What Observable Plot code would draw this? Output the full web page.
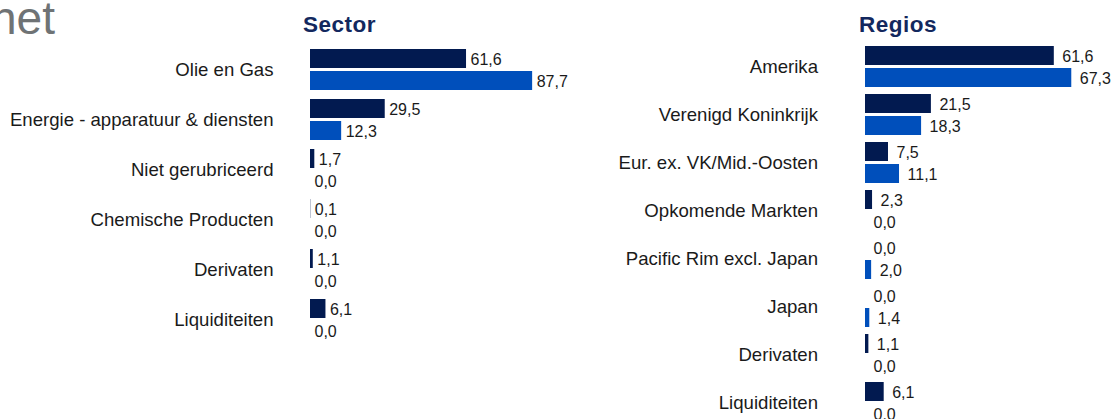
<!DOCTYPE html>
<html>
<head>
<meta charset="utf-8">
<script src="https://cdn.jsdelivr.net/npm/d3@7"></script>
<script src="https://cdn.jsdelivr.net/npm/@observablehq/plot@0.6"></script>
<style>
html, body { margin: 0; padding: 0; background: #fff; overflow: hidden; }
#wrap { position: relative; width: 1111px; height: 419px; overflow: hidden; font-family: "Liberation Sans", Arial, sans-serif; }
.ttl { position: absolute; font-weight: bold; font-size: 22.5px; line-height: 22px; color: #13285e; letter-spacing: 0.5px; white-space: nowrap; }
.head { position: absolute; left: -9px; top: -5px; font-size: 46px; line-height: 46px; color: #6f7375; white-space: nowrap; }
.panel { position: absolute; top: 0; }
.panel svg { overflow: visible; }
</style>
</head>
<body>
<div id="wrap">
  <div class="head">net</div>
  <div class="ttl" style="left:303px; top:14.2px;">Sector</div>
  <div class="ttl" style="left:859px; top:14.2px;">Regios</div>
  <div class="panel" id="sector" style="left:0px;"></div>
  <div class="panel" id="regios" style="left:560px;"></div>
</div>
<script>
// ---- data ----
const series = ["Fonds", "Benchmark"];

const sectorCategories = ["Olie en Gas", "Energie - apparatuur & diensten", "Niet gerubriceerd", "Chemische Producten", "Derivaten", "Liquiditeiten"];
const sectorFonds = [61.6, 29.5, 1.7, 0.1, 1.1, 6.1];
const sectorBenchmark = [87.7, 12.3, 0.0, 0.0, 0.0, 0.0];

const regioCategories = ["Amerika", "Verenigd Koninkrijk", "Eur. ex. VK/Mid.-Oosten", "Opkomende Markten", "Pacific Rim excl. Japan", "Japan", "Derivaten", "Liquiditeiten"];
const regioFonds = [61.6, 21.5, 7.5, 2.3, 0.0, 0.0, 1.1, 6.1];
const regioBenchmark = [67.3, 18.3, 11.1, 0.0, 2.0, 1.4, 0.0, 0.0];

const dark = "#021a50";
const blue = "#004fbb";
const fmt = v => v.toFixed(1).replace(".", ",");

function panel(o) {
  const data = o.cats.flatMap((c, i) => [
    {cat: c, series: series[0], value: o.a[i]},
    {cat: c, series: series[1], value: o.b[i]}
  ]);
  return Plot.plot({
    width: o.width,
    height: o.height,
    marginLeft: o.marginLeft,
    marginRight: 0,
    marginTop: o.marginTop,
    marginBottom: o.marginBottom,
    style: {fontFamily: "'Liberation Sans', Arial, sans-serif", fontSize: "18.6px", color: "#1a1a1a", background: "transparent"},
    x: {domain: [0, o.xmax], axis: null},
    y: {domain: series, axis: null, paddingInner: o.yPad, paddingOuter: 0},
    fy: {domain: o.cats, paddingInner: o.fyPad, paddingOuter: 0},
    color: {domain: series, range: [dark, blue]},
    marks: [
      Plot.barX(data, {fy: "cat", y: "series", x: "value", fill: "series"}),
      Plot.text(data, {fy: "cat", y: "series", x: "value", text: d => fmt(d.value), textAnchor: "start", dx: o.dx, dy: 1, fontSize: 16, fill: "#1a1a1a", style: "letter-spacing:0.3px"}),
      Plot.axisFy({anchor: "left", tickSize: 0, tickPadding: o.tickPadding, label: null, fontSize: 18.6, fill: "#1a1a1a"})
    ]
  });
}

document.getElementById("sector").appendChild(panel({
  cats: sectorCategories, a: sectorFonds, b: sectorBenchmark,
  width: 560, height: 419, marginLeft: 310, marginTop: 47, marginBottom: 75,
  xmax: 98.7, yPad: 0.13, fyPad: 0.154, tickPadding: 37, dx: 4
}));

document.getElementById("regios").appendChild(panel({
  cats: regioCategories, a: regioFonds, b: regioBenchmark,
  width: 551, height: 423, marginLeft: 305, marginTop: 46, marginBottom: 0,
  xmax: 80.26, yPad: 0.15, fyPad: 0.152, tickPadding: 47.5, dx: 8
}));
</script>
</body>
</html>
